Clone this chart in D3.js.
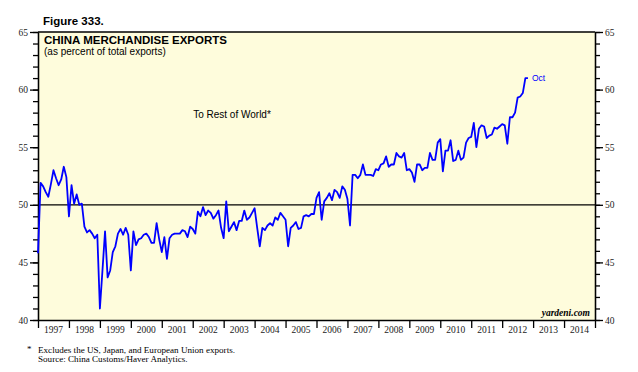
<!DOCTYPE html>
<html>
<head>
<meta charset="utf-8">
<script src="https://cdn.jsdelivr.net/npm/d3@7"></script>
<style>
  body { margin: 0; background: #fff; }
  svg { display: block; }
</style>
</head>
<body>
<div id="chart"></div>
<script>
var
  width = 638,
  height = 372;

// monthly share, end of Dec 1996 through end of Oct 2012
var exportShare = [
  45.8, 51.9, 51.6, 51.1, 50.7, 51.8, 53.0, 52.3, 51.7, 52.2, 53.3, 52.4,
  49.0, 51.7, 50.1, 50.9, 50.0, 50.1, 48.1, 47.6, 47.8, 47.5, 47.1, 47.4,
  41.0, 44.3, 47.7, 43.7, 44.3, 45.9, 46.4, 47.5, 47.9, 47.4, 48.0, 47.4,
  44.3, 47.7, 46.5, 47.0, 47.1, 47.4, 47.5, 47.2, 46.7, 46.7, 48.4, 47.0,
  45.9, 47.2, 45.3, 47.1, 47.4, 47.5, 47.5, 47.5, 47.8, 47.7, 47.2, 48.1,
  47.9, 47.5, 49.4, 49.0, 49.8, 49.1, 49.5, 49.3, 48.8, 49.1, 49.5, 48.0,
  47.1, 50.3, 47.7, 48.1, 48.5, 47.8, 48.6, 48.6, 49.5, 48.7, 48.9, 49.3,
  49.7, 48.0, 46.4, 48.0, 47.8, 48.2, 48.4, 48.2, 48.9, 48.7, 49.3, 49.0,
  48.7, 46.4, 48.0, 48.2, 48.5, 47.9, 48.0, 49.0, 49.1, 49.0, 49.2, 49.2,
  50.6, 51.1, 48.7, 50.3, 50.6, 51.0, 50.4, 51.3, 51.1, 50.6, 51.6, 51.3,
  50.5, 48.2, 52.6, 52.6, 52.3, 52.6, 53.5, 52.6, 52.6, 52.6, 52.5, 53.1,
  53.0, 53.5, 53.6, 54.2, 53.3, 53.5, 53.5, 54.5, 54.2, 54.1, 54.5, 53.0,
  53.1, 52.8, 52.0, 53.5, 53.5, 53.0, 53.2, 53.2, 54.5, 53.9, 53.9, 55.4,
  55.7, 52.9, 54.7, 54.7, 55.6, 53.8, 53.9, 54.7, 53.9, 54.1, 55.4, 55.8,
  55.9, 57.1, 55.0, 56.6, 56.9, 56.8, 55.8, 56.0, 56.1, 56.7, 56.6, 56.8,
  57.0, 56.9, 55.3, 57.6, 57.6, 58.0, 59.3, 59.4, 59.7, 61.0, 61.0
];
var firstPoint = 1997; // decimal year of first value
var yearLabels = d3.range(1997, 2015);
var yearTicks = d3.range(1997, 2016);
var yMajor = [40, 45, 50, 55, 60, 65];
var yMinor = d3.range(40, 66);

var svg = d3.select("#chart")
  .append("svg")
  .attr('version', '1.1')
  .attr('viewBox', '0 0 '+width+' '+height)
  .attr('width', width)
  .attr('height', height);

var plotL = 38, plotR = 595, plotT = 32, plotB = 320;

var x = d3.scaleLinear().domain([1997, 2015]).range([plotL, plotR]);
var y = d3.scaleLinear().domain([40, 65]).range([plotB, plotT]);

svg.append("rect")
  .attr("x", plotL).attr("y", plotT)
  .attr("width", plotR - plotL).attr("height", plotB - plotT)
  .attr("fill", "#fefcdc");

var serif = "'Liberation Serif', 'Times New Roman', serif";
var sans = "'Liberation Sans', Arial, sans-serif";

// y axes, minor ticks then labelled majors
function yAxes(g, axisFn) {
  g.append("g").call(axisFn(y).tickValues(yMinor).tickSize(5).tickFormat("").tickSizeOuter(0));
  g.append("g").call(axisFn(y).tickValues(yMajor).tickSize(8).tickPadding(2).tickSizeOuter(0));
  g.selectAll("path, line").attr("stroke", "#000").attr("stroke-width", 1.3);
  g.selectAll("text").attr("font-family", serif).attr("font-size", "9.5px").attr("fill", "#222");
}

svg.append("g").attr("transform", "translate("+plotL+",0)").call(yAxes, d3.axisLeft);
svg.append("g").attr("transform", "translate("+plotR+",0)").call(yAxes, d3.axisRight);

// x axis: year boundaries with labels centred between
var xg = svg.append("g").attr("transform", "translate(0,"+plotB+")");
xg.call(d3.axisBottom(x).tickValues(yearTicks).tickSize(8).tickFormat("").tickSizeOuter(0));
xg.selectAll("path, line").attr("stroke", "#000").attr("stroke-width", 1.3);
xg.selectAll(".yr")
  .data(yearLabels)
  .enter().append("text")
  .attr("class", "yr")
  .attr("x", function(d) { return x(d + 0.5); })
  .attr("y", 13)
  .attr("text-anchor", "middle")
  .attr("font-family", serif)
  .attr("font-size", "9.5px")
  .attr("fill", "#222")
  .text(function(d) { return d; });

// top frame
svg.append("line")
  .attr("x1", plotL).attr("x2", plotR)
  .attr("y1", y(65)).attr("y2", y(65))
  .attr("stroke", "#000").attr("stroke-width", 1.3);

// 50 reference line
svg.append("line")
  .attr("x1", plotL).attr("x2", plotR)
  .attr("y1", y(50)).attr("y2", y(50))
  .attr("stroke", "#000").attr("stroke-width", 1.2);

var line = d3.line()
  .x(function(d, i) { return x(firstPoint + i / 12); })
  .y(function(d) { return y(d); });

svg.append("path")
  .datum(exportShare)
  .attr("d", line)
  .attr("fill", "none")
  .attr("stroke", "#0000ff")
  .attr("stroke-width", 1.8)
  .attr("stroke-linejoin", "round");

var lastI = exportShare.length - 1;
svg.append("text")
  .attr("x", x(firstPoint + lastI / 12) + 4)
  .attr("y", y(exportShare[lastI]) + 3)
  .attr("font-family", sans)
  .attr("font-size", "8.5px")
  .attr("fill", "#0000ff")
  .text("Oct");

// titles
svg.append("text")
  .attr("x", 43).attr("y", 25)
  .attr("font-family", sans).attr("font-weight", "bold").attr("font-size", "11.5px")
  .text("Figure 333.");

svg.append("text")
  .attr("x", 44).attr("y", 44)
  .attr("font-family", sans).attr("font-weight", "bold").attr("font-size", "11.5px")
  .text("CHINA MERCHANDISE EXPORTS");

svg.append("text")
  .attr("x", 44).attr("y", 55)
  .attr("font-family", sans).attr("font-size", "10px")
  .text("(as percent of total exports)");

svg.append("text")
  .attr("x", 232).attr("y", 118)
  .attr("text-anchor", "middle")
  .attr("font-family", sans).attr("font-size", "10px")
  .text("To Rest of World*");

svg.append("text")
  .attr("x", 590).attr("y", 316)
  .attr("text-anchor", "end")
  .attr("font-family", serif).attr("font-weight", "bold").attr("font-style", "italic")
  .attr("font-size", "9.5px")
  .text("yardeni.com");

// footnotes
svg.append("text")
  .attr("x", 27).attr("y", 352)
  .attr("font-family", serif).attr("font-size", "9px")
  .text("*");

svg.append("text")
  .attr("x", 38).attr("y", 353)
  .attr("font-family", serif).attr("font-size", "9.1px")
  .text("Excludes the US, Japan, and European Union exports.");

svg.append("text")
  .attr("x", 38).attr("y", 362)
  .attr("font-family", serif).attr("font-size", "9.1px")
  .text("Source: China Customs/Haver Analytics.");
</script>
</body>
</html>
